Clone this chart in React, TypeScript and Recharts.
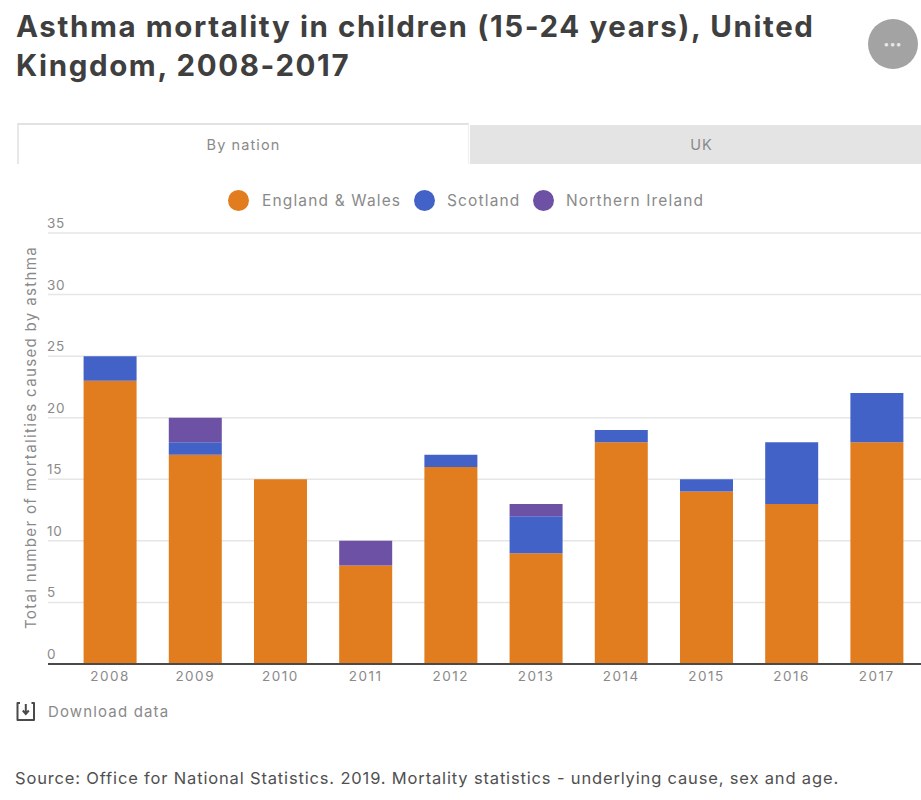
import React from "react";
import { BarChart, Bar, XAxis, YAxis, CartesianGrid, Legend, Label } from "recharts";

const years = ["2008", "2009", "2010", "2011", "2012", "2013", "2014", "2015", "2016", "2017"];
const englandWales = [23, 17, 15, 8, 16, 9, 18, 14, 13, 18];
const scotland = [2, 1, 0, 0, 1, 3, 1, 1, 5, 4];
const northernIreland = [0, 2, 0, 2, 0, 1, 0, 0, 0, 0];
const yTicks = [0, 5, 10, 15, 20, 25, 30, 35];
const seriesInfo = [
  { key: "england", name: "England & Wales", color: "#E17D1E" },
  { key: "scotland", name: "Scotland", color: "#4362C8" },
  { key: "ni", name: "Northern Ireland", color: "#6C51A4" },
];

const rows = years.map((year, i) => ({
  year,
  england: englandWales[i],
  scotland: scotland[i],
  ni: northernIreland[i],
}));

const FONT = "Inter, 'Open Sans', sans-serif";
const GREY = "#8a8a8a";

// Value labels sit just above their gridline, flush left.
const YTick = (props: any) => (
  <text x={47} y={props.y - 5} fill={GREY} fontSize={13.5} letterSpacing={0.7} fontFamily={FONT} textAnchor="start">
    {props.payload.value}
  </text>
);

const LegendRow = () => (
  <div
    style={{
      position: "absolute",
      left: 228,
      top: 189,
      fontFamily: FONT,
      fontSize: 15.5,
      letterSpacing: 1.15,
      color: GREY,
      whiteSpace: "nowrap",
    }}
  >
    {seriesInfo.map((s, i) => (
      <span
        key={s.key}
        style={{ position: "absolute", left: [0, 186, 305][i], top: 0, display: "flex", alignItems: "center", height: 22 }}
      >
        <span
          style={{ width: 21, height: 21, borderRadius: "50%", background: s.color, marginRight: i === 0 ? 13 : 12, display: "inline-block" }}
        />
        {s.name}
      </span>
    ))}
  </div>
);

export default function App() {
  return (
    <div style={{ position: "absolute", left: 0, top: 0, width: 921, height: 800, overflow: "hidden", background: "#fff", fontFamily: FONT }}>
      <div style={{ position: "absolute", left: 16, top: 7, width: 845, fontSize: 29.5, lineHeight: "39px", fontWeight: 700, color: "#3f3f3f", letterSpacing: 1.62 }}>
        Asthma mortality in children (15-24 years), United Kingdom, 2008-2017
      </div>
      <div style={{ position: "absolute", left: 868, top: 19, width: 50, height: 50, borderRadius: "50%", background: "#a3a3a3", color: "#e8e8e8", textAlign: "center", fontSize: 11, lineHeight: "50px", fontWeight: 700, letterSpacing: 1 }}>
        •••
      </div>

      <div style={{ position: "absolute", left: 470, top: 125, width: 451, height: 39, background: "#e4e4e4", color: GREY, fontSize: 14.5, letterSpacing: 1.1, lineHeight: "39px", textAlign: "center" }}>
        <span style={{ position: "relative", left: 6 }}>UK</span>
      </div>
      <div style={{ position: "absolute", left: 17, top: 123, width: 452, height: 41, borderTop: "2px solid #e2e2e2", borderLeft: "2px solid #e8e8e8", borderRight: "1px solid #eee", boxSizing: "border-box", color: GREY, fontSize: 14.5, letterSpacing: 1.1, lineHeight: "40px", textAlign: "center" }}>
        By nation
      </div>

      <BarChart
        width={921}
        height={800}
        data={rows}
        margin={{ top: 233, right: 0, bottom: 106, left: 0 }}
        barCategoryGap="19%"
        style={{ position: "absolute", left: 0, top: 0 }}
      >
        <CartesianGrid horizontal vertical={false} stroke="#e6e6e6" strokeWidth={1.5} />
        <Legend content={<LegendRow />} wrapperStyle={{ position: "absolute", left: 0, top: 0, width: 0, height: 0 }} />
        <XAxis
          dataKey="year"
          padding={{ left: 19.4, right: 1.6 }}
          axisLine={{ stroke: "#4a4a4a", strokeWidth: 2 }}
          tickLine={false}
          tick={{ fill: GREY, fontSize: 13.5, fontFamily: FONT, letterSpacing: 1.5 }}
          tickMargin={1}
          height={30}
          interval={0}
        />
        <YAxis
          type="number"
          domain={[0, 35]}
          ticks={yTicks}
          width={48}
          axisLine={false}
          tickLine={false}
          tick={<YTick />}
          interval={0}
        >
          <Label
            value="Total number of mortalities caused by asthma"
            angle={-90}
            position="insideLeft"
            offset={0}
            dx={31}
            dy={-11}
            style={{ fill: GREY, fontSize: 15, letterSpacing: 1.35, fontFamily: FONT, textAnchor: "middle" }}
          />
        </YAxis>
        {seriesInfo.map((s) => (
          <Bar key={s.key} dataKey={s.key} name={s.name} stackId="deaths" fill={s.color} isAnimationActive={false} />
        ))}
      </BarChart>

      <svg style={{ position: "absolute", left: 14, top: 700 }} width={24} height={24} viewBox="0 0 24 24">
        <path d="M6 3 H3.5 V20 H20 V3 H17.5" fill="none" stroke="#4a4a4a" strokeWidth={2} strokeLinejoin="round" />
        <path d="M11.8 4 V13 M8.8 10.5 L11.8 14 L14.8 10.5" fill="none" stroke="#4a4a4a" strokeWidth={2} />
      </svg>
      <div style={{ position: "absolute", left: 48, top: 702, fontSize: 15, letterSpacing: 1.15, lineHeight: "20px", color: GREY }}>Download data</div>
      <div style={{ position: "absolute", left: 15, top: 767, fontSize: 16.5, letterSpacing: 0.84, lineHeight: "22px", color: "#505050", whiteSpace: "nowrap" }}>
        Source: Office for National Statistics. 2019. Mortality statistics - underlying cause, sex and age.
      </div>
    </div>
  );
}
